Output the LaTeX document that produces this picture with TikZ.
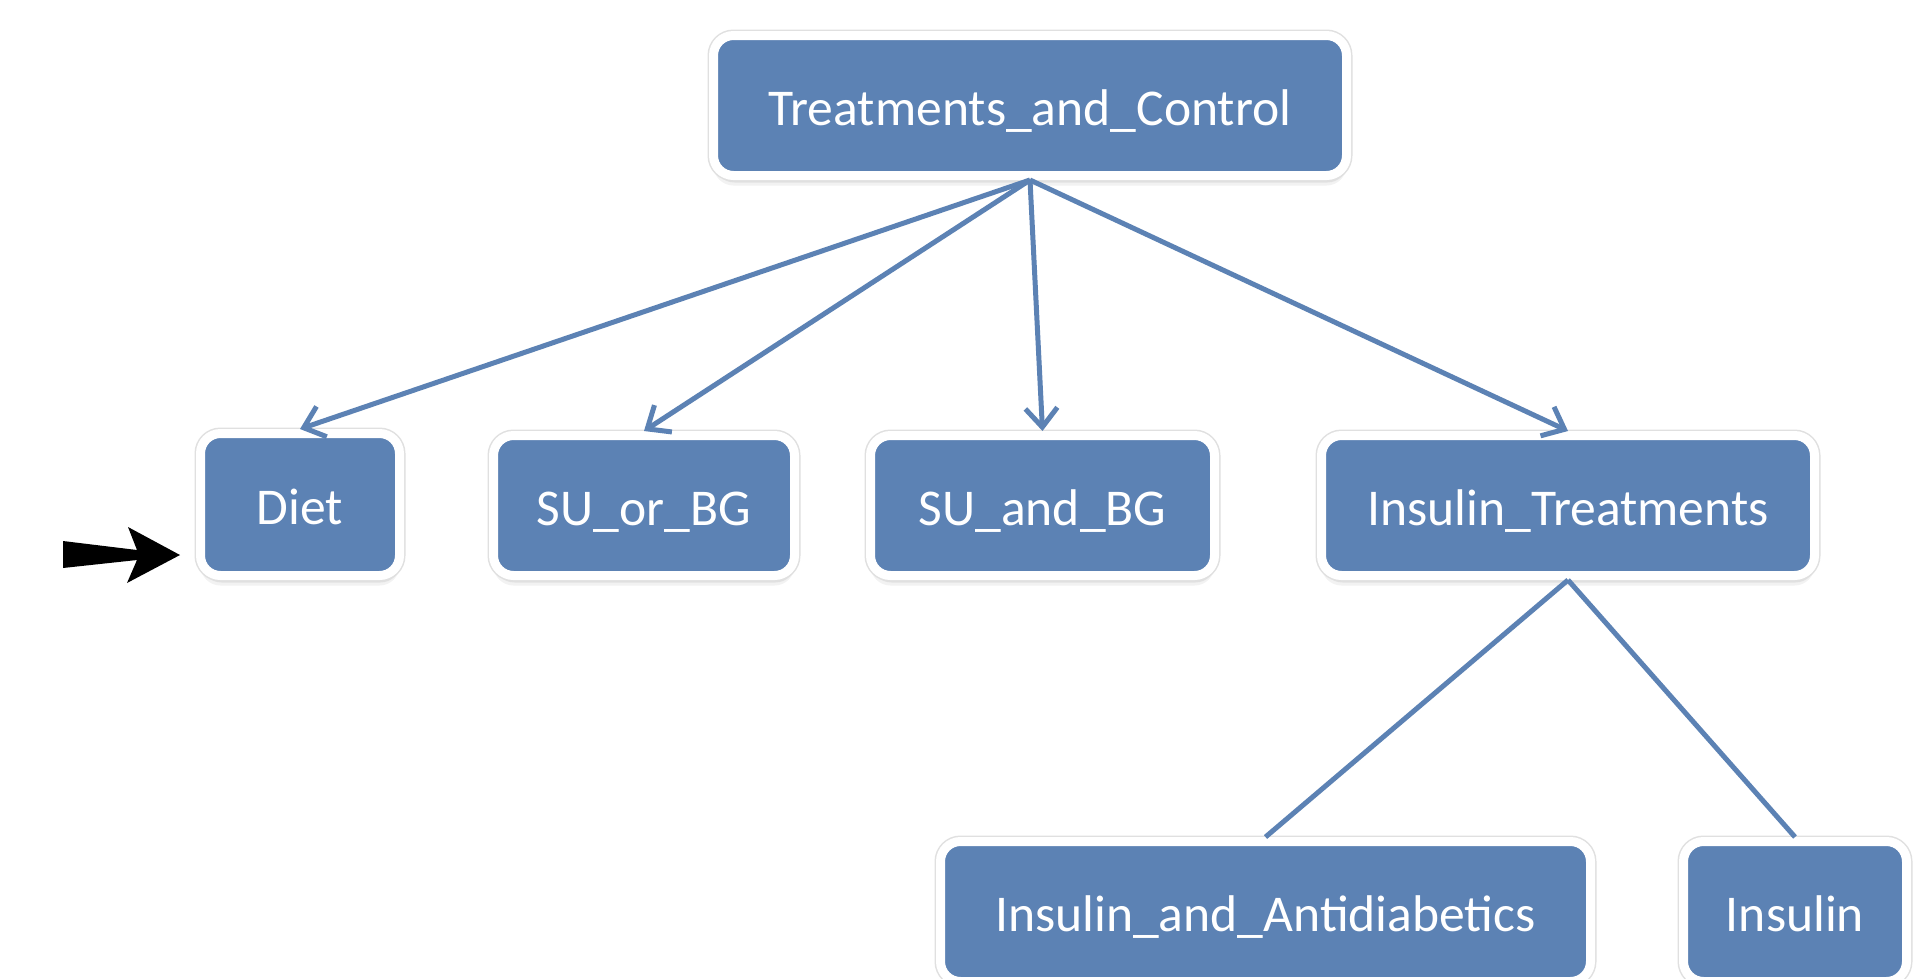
\documentclass[tikz,border=0pt]{standalone}
\usepackage{fontspec}
\setmainfont{Carlito}
\usetikzlibrary{arrows.meta,shadows}
\definecolor{boxblue}{RGB}{92,130,180}
\begin{document}
\begin{tikzpicture}[x=1pt,y=-1pt,
  box/.style={rectangle, rounded corners=20pt, fill=boxblue, draw=white,
    line width=9pt, text=white, inner sep=0pt,
    text height=40pt, text depth=0pt,
    font=\fontsize{51.6}{60}\selectfont,
    drop shadow={opacity=0.10, shadow xshift=0pt, shadow yshift=-10pt},
    drop shadow={opacity=0.14, shadow xshift=1pt, shadow yshift=-7pt},
    preaction={draw=black!12, line width=12pt}},
  link/.style={draw=boxblue, line width=5pt},
  arrowlink/.style={link, -{Straight Barb[length=19pt,width=32pt,line width=5pt]}}
]
\useasboundingbox[fill=white] (0,0) rectangle (1917,978);

\node[box, minimum width=633pt, minimum height=140pt] (tc) at (1030,105.5) {Treatments\_and\_Control};
\node[box, minimum width=199pt, minimum height=142pt] (diet) at (300,504.5) {Diet};
\node[box, minimum width=301pt, minimum height=140pt] (suor) at (644,505.5) {SU\_or\_BG};
\node[box, minimum width=344pt, minimum height=140pt] (suand) at (1042.5,505.5) {SU\_and\_BG};
\node[box, minimum width=493pt, minimum height=140pt] (it) at (1568,505.5) {Insulin\_Treatments};
\node[box, minimum width=650pt, minimum height=140pt] (iad) at (1265.5,911.5) {Insulin\_and\_Antidiabetics};
\node[box, minimum width=223pt, minimum height=140pt] (ins) at (1795,911.5) {Insulin};

\draw[arrowlink] (tc.south) -- (diet.north);
\draw[arrowlink] (tc.south) -- (suor.north);
\draw[arrowlink] (tc.south) -- (suand.north);
\draw[arrowlink] (tc.south) -- (it.north);
\draw[link] (it.south) -- (iad.north);
\draw[link] (it.south) -- (ins.north);

\coordinate (pointer) at (180,555);
\fill[black] (63,541) -- (137,550) -- (128,527) -- (pointer) -- (127,583) -- (137,560) -- (63,568) -- cycle;
\end{tikzpicture}
\end{document}
